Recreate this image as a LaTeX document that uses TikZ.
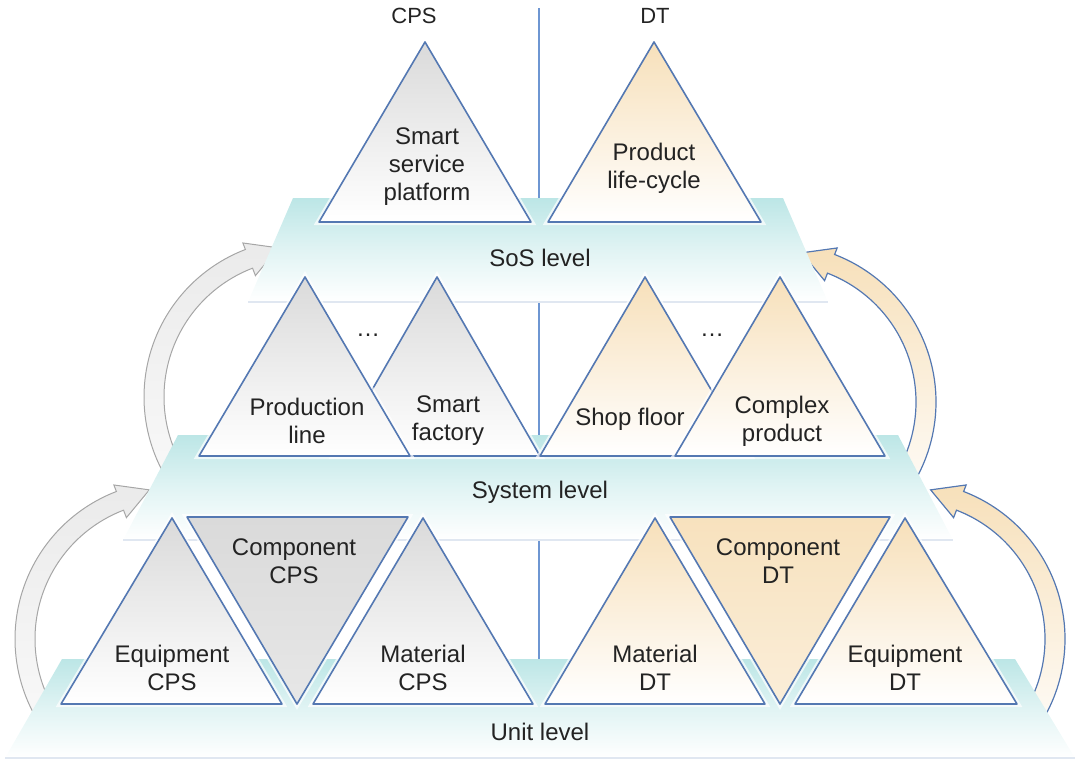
\documentclass[tikz,border=0pt]{standalone}
\usepackage{fontspec}
\setmainfont{Liberation Sans}
\definecolor{platteal}{RGB}{188,230,230}
\definecolor{edgeblue}{RGB}{84,120,178}
\definecolor{cpsgray}{RGB}{218,218,218}
\definecolor{dtbeige}{RGB}{247,224,186}
\definecolor{txtgray}{RGB}{35,35,35}
\definecolor{linkblue}{RGB}{110,150,210}

\begin{document}
\begin{tikzpicture}[x=0.5pt,y=0.5pt,
    every node/.style={font=\fontsize{12}{14}\selectfont, text=txtgray, align=center, inner sep=0pt},
    toplbl/.style={font=\fontsize{11}{13}\selectfont},
    platform/.style={top color=platteal, bottom color=white, middle color=platteal!45!white},
    platedge/.style={draw=edgeblue!18, line width=1.2pt},
    tri/.style={draw=edgeblue, line width=0.8pt, line join=round,
        preaction={draw=white, line width=3pt, opacity=0.7}},
    cpstri/.style={tri, top color=cpsgray, bottom color=white},
    dttri/.style={tri, top color=dtbeige, bottom color=white},
    cpscomp/.style={tri, top color=cpsgray, bottom color=cpsgray!65!white},
    dtcomp/.style={tri, top color=dtbeige!95!white, bottom color=dtbeige!55!white},
    cpsarrow/.style={draw=gray!70, line width=0.5pt, top color=gray!16, bottom color=gray!5},
    dtarrow/.style={draw=edgeblue, line width=0.6pt, top color=dtbeige, bottom color=dtbeige!12!white}]
    \useasboundingbox (0,0) rectangle (1080,-766);

    % divider between CPS and DT
    \draw [linkblue, line width=1pt] (539,-8) -- (539,-690);

    % level arrows (behind the platforms)
    \begin{scope}[shift={(173,-639)}]
        \draw [cpsarrow] (215:158) arc [start angle=215, end angle=111, radius=158]
            -- (111:165) -- (99:151) -- (111:130) -- (111:138)
            arc [start angle=111, end angle=215, radius=138] -- cycle;
    \end{scope}
    \begin{scope}[shift={(302,-397)}]
        \draw [cpsarrow] (215:158) arc [start angle=215, end angle=111, radius=158]
            -- (111:165) -- (99:151) -- (111:130) -- (111:138)
            arc [start angle=111, end angle=215, radius=138] -- cycle;
    \end{scope}
    \begin{scope}[shift={(907,-639)}, xscale=-1]
        \draw [dtarrow] (215:158) arc [start angle=215, end angle=111, radius=158]
            -- (111:165) -- (99:151) -- (111:130) -- (111:138)
            arc [start angle=111, end angle=215, radius=138] -- cycle;
    \end{scope}
    \begin{scope}[shift={(778,-402)}, xscale=-1]
        \draw [dtarrow] (215:158) arc [start angle=215, end angle=111, radius=158]
            -- (111:165) -- (99:151) -- (111:130) -- (111:138)
            arc [start angle=111, end angle=215, radius=138] -- cycle;
    \end{scope}

    % SoS level
    \shade [platform] (293,-198) -- (783,-198) -- (828,-302) -- (248,-302) -- cycle;
    \draw [platedge] (248,-302) -- (828,-302);
    \draw [cpstri] (319,-222) -- (425,-42) -- (531,-222) -- cycle;
    \node (ssp) at (427,-167) {Smart\\service\\platform};
    \draw [dttri] (548,-222) -- (654,-42) -- (761,-222) -- cycle;
    \node (plc) at (654,-168) {Product\\life-cycle};
    \node (sos) at (540,-258) {SoS level};

    % system level
    \shade [platform] (178,-435) -- (898,-435) -- (953,-540) -- (123,-540) -- cycle;
    \draw [platedge] (123,-540) -- (953,-540);
    \draw [cpstri] (334,-456) -- (437,-277) -- (540,-456) -- cycle;
    \draw [cpstri] (199,-456) -- (305,-277) -- (410,-456) -- cycle;
    \node (pl) at (307,-421) {Production\\line};
    \node (sf) at (448,-421) {Smart\\factory};
    \node [anchor=base] (cdots) at (368,-336) {\dots};
    \draw [dttri] (540,-456) -- (645,-277) -- (750,-456) -- cycle;
    \draw [dttri] (675,-456) -- (780,-277) -- (885,-456) -- cycle;
    \node (shop) at (630,-419) {Shop floor};
    \node (cp) at (782,-421) {Complex\\product};
    \node [anchor=base] (ddots) at (712,-336) {\dots};
    \node (sys) at (540,-492) {System level};

    % unit level
    \shade [platform] (62,-659) -- (1015,-659) -- (1075,-758) -- (5,-758) -- cycle;
    \draw [platedge] (5,-758) -- (1075,-758);
    \draw [cpstri] (61,-704) -- (172,-518) -- (282,-704) -- cycle;
    \draw [cpscomp] (187,-517) -- (408,-517) -- (297,-704) -- cycle;
    \draw [cpstri] (313,-704) -- (423,-518) -- (533,-704) -- cycle;
    \node (ecps) at (172,-668) {Equipment\\CPS};
    \node (ccps) at (294,-561) {Component\\CPS};
    \node (mcps) at (423,-668) {Material\\CPS};
    \draw [dttri] (545,-704) -- (655,-518) -- (765,-704) -- cycle;
    \draw [dtcomp] (670,-517) -- (890,-517) -- (780,-704) -- cycle;
    \draw [dttri] (795,-704) -- (905,-518) -- (1017,-704) -- cycle;
    \node (mdt) at (655,-668) {Material\\DT};
    \node (cdt) at (778,-561) {Component\\DT};
    \node (edt) at (905,-668) {Equipment\\DT};
    \node (unit) at (540,-732) {Unit level};

    % column heads
    \node [toplbl] (cps) at (414,-16) {CPS};
    \node [toplbl] (dt) at (655,-16) {DT};
\end{tikzpicture}
\end{document}
